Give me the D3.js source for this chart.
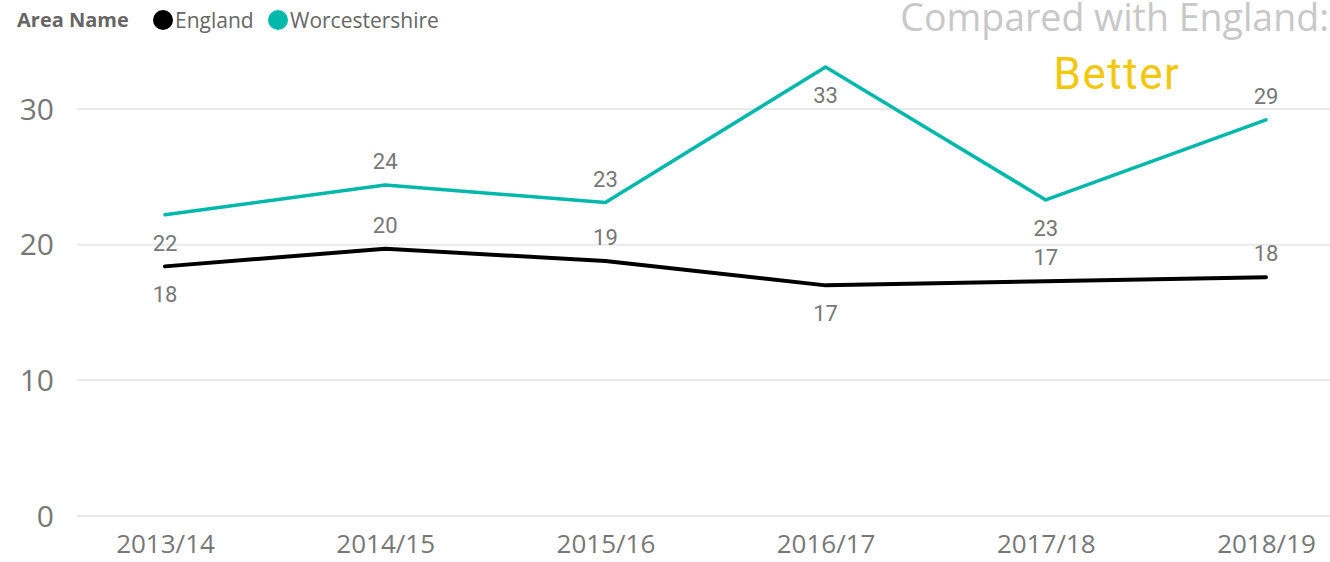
<!DOCTYPE html>
<html>
<head>
<meta charset="utf-8">
<script src="https://cdn.jsdelivr.net/npm/d3@7"></script>
<style>
  body { margin: 0; background: #fff; }
  svg { display: block; }
</style>
</head>
<body>
<div id="chart"></div>
<script>
// data
var years = ["2013/14", "2014/15", "2015/16", "2016/17", "2017/18", "2018/19"];
var england = [18.4, 19.7, 18.8, 17.0, 17.3, 17.6];
var worcestershire = [22.2, 24.4, 23.1, 33.1, 23.3, 29.2];
// where each data label sits relative to its point
var englandLabelPos = ["below", "above", "above", "below", "above", "above"];
var worcsLabelPos = ["below", "above", "above", "below", "below", "above"];
var yTicks = [0, 10, 20, 30];
var seriesNames = ["England", "Worcestershire"];
var seriesColors = ["#000000", "#01B8AA"];

var width = 1330, height = 562;

var svg = d3.select("#chart").append("svg")
    .attr("width", width)
    .attr("height", height);

var x = d3.scalePoint()
    .domain(years)
    .range([165, 1266]);

var y = d3.scaleLinear()
    .domain([0, 30])
    .range([516, 109]);

// gridlines + y labels
var yAxis = svg.append("g");
yAxis.selectAll("line")
    .data(yTicks)
    .enter()
    .append("line")
      .attr("x1", 77)
      .attr("x2", width)
      .attr("y1", function(d) { return y(d); })
      .attr("y2", function(d) { return y(d); })
      .attr("stroke", "#e9e9e9")
      .attr("stroke-width", 2);

yAxis.selectAll("text")
    .data(yTicks)
    .enter()
    .append("text")
      .attr("x", 54)
      .attr("y", function(d) { return y(d); })
      .attr("dy", "0.36em")
      .attr("text-anchor", "end")
      .style("font-family", "'Open Sans', 'Noto Sans', sans-serif")
      .style("font-size", "30px")
      .style("fill", "#777")
      .text(function(d) { return d; });

// x axis labels
svg.append("g")
    .attr("transform", "translate(0,544)")
    .call(d3.axisBottom(x).tickSize(0).tickPadding(0))
    .call(function(g) { g.select(".domain").remove(); })
    .selectAll("text")
      .attr("dy", "0.36em")
      .style("font-family", "'Open Sans', 'Noto Sans', sans-serif")
      .style("font-size", "26px")
      .style("fill", "#777");

var line = d3.line()
    .x(function(d, i) { return x(years[i]); })
    .y(function(d) { return y(d); });

var series = [
  { name: "England", values: england, pos: englandLabelPos, color: seriesColors[0], w: 4 },
  { name: "Worcestershire", values: worcestershire, pos: worcsLabelPos, color: seriesColors[1], w: 3.5 }
];

series.forEach(function(s) {
  svg.append("path")
      .datum(s.values)
      .attr("d", line)
      .attr("fill", "none")
      .attr("stroke", s.color)
      .attr("stroke-width", s.w)
      .attr("stroke-linejoin", "round")
      .attr("stroke-linecap", "round");
});

series.forEach(function(s) {
  svg.append("g").selectAll("text")
      .data(s.values)
      .enter()
      .append("text")
        .attr("x", function(d, i) { return x(years[i]); })
        .attr("y", function(d, i) { return y(d) + (s.pos[i] == "above" ? -24 : 28); })
        .attr("dy", "0.36em")
        .attr("text-anchor", "middle")
        .style("font-family", "Roboto, sans-serif")
        .style("font-size", "22px")
        .style("fill", "#777")
        .text(function(d) { return Math.round(d); });
});

// legend
var legend = svg.append("g");
legend.append("text")
    .attr("x", 17)
    .attr("y", 27)
    .style("font-family", "'Open Sans', 'Noto Sans', sans-serif")
    .style("font-size", "20px")
    .style("font-weight", "bold")
    .style("fill", "#666")
    .text("Area Name");

var legendX = [163, 278];
legend.selectAll("circle")
    .data(seriesNames)
    .enter()
    .append("circle")
      .attr("cx", function(d, i) { return legendX[i]; })
      .attr("cy", 20)
      .attr("r", 10)
      .attr("fill", function(d, i) { return seriesColors[i]; });

legend.selectAll(".lt")
    .data(seriesNames)
    .enter()
    .append("text")
      .attr("class", "lt")
      .attr("x", function(d, i) { return legendX[i] + 12; })
      .attr("y", 28)
      .style("font-family", "'Open Sans', 'Noto Sans', sans-serif")
      .style("font-size", "21px")
      .style("fill", "#666")
      .text(function(d) { return d; });

// comparison card
svg.append("text")
    .attr("x", 1329)
    .attr("y", 31)
    .attr("text-anchor", "end")
    .style("font-family", "'Open Sans', 'Noto Sans', sans-serif")
    .style("font-size", "37.5px")
    .style("fill", "#c8c8c8")
    .text("Compared with England:");

svg.append("text")
    .attr("x", 1117)
    .attr("y", 89)
    .attr("text-anchor", "middle")
    .style("font-family", "Roboto, sans-serif")
    .style("font-size", "44px")
    .style("letter-spacing", "1.5px")
    .style("fill", "#F2C80F")
    .text("Better");
</script>
</body>
</html>
